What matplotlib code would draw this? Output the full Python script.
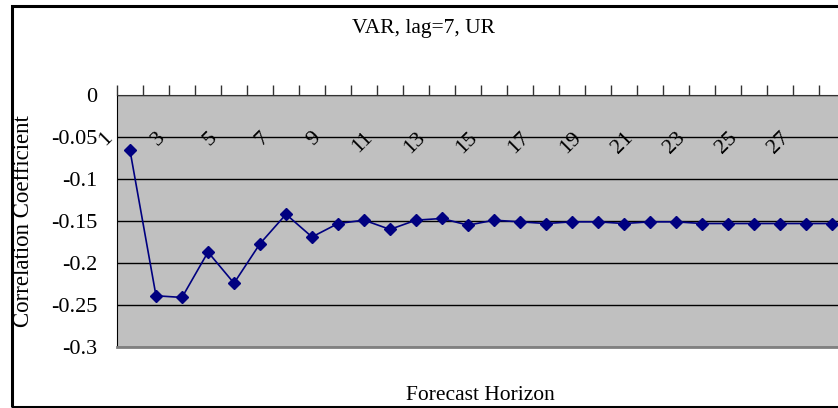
import matplotlib.pyplot as plt
from matplotlib.patches import Rectangle
from matplotlib.transforms import offset_copy

# forecast horizons and correlation values
horizon = list(range(1, 29))
corr = [-0.066, -0.239, -0.241, -0.187, -0.224, -0.177, -0.142, -0.169,
        -0.153, -0.149, -0.160, -0.149, -0.147, -0.155, -0.149, -0.151,
        -0.153, -0.151, -0.151, -0.153, -0.151, -0.151, -0.153, -0.153,
        -0.153, -0.153, -0.153, -0.153]
yticks = [0, -0.05, -0.1, -0.15, -0.2, -0.25, -0.3]
ylabels = ["0", "-0.05", "-0.1", "-0.15", "-0.2", "-0.25", "-0.3"]

plt.rcParams["font.family"] = ["Liberation Serif", "DejaVu Serif"]

fig = plt.figure(figsize=(8.38, 4.08), dpi=100)
W, H = 838, 408

# outer frame of the chart
fig.patches.append(Rectangle((12 / W, 1.5 / H), 1.2, (H - 7.5) / H,
                             transform=fig.transFigure, fill=False,
                             edgecolor="black", linewidth=2.2))

ax = fig.add_axes([117 / W, 61 / H, (W - 117) / W, 252 / H])
ax.set_facecolor("#c0c0c0")
ax.set_xlim(0.5, 28.23)
ax.set_ylim(-0.3, 0)

ax.plot(horizon, corr, color="#000080", linewidth=1.2, marker="D",
        markersize=6.5, zorder=3)

# gridlines
ax.set_yticks(yticks)
ax.set_yticklabels(ylabels, fontsize=16)
ax.tick_params(axis="y", length=0, pad=14)
ax.grid(axis="y", color="black", linewidth=1)

# category ticks on the top axis line
ax.set_xticks([h + 0.5 for h in range(0, 28)])
ax.set_xticklabels([])
ax.xaxis.set_ticks_position("top")
ax.tick_params(axis="x", direction="out", length=7, width=1, color="#333333")

ax.spines["right"].set_visible(False)
ax.spines["top"].set_color("#333333")
ax.spines["left"].set_color("black")
ax.spines["bottom"].set_color("#808080")
ax.spines["bottom"].set_linewidth(2)

# rotated category labels sitting below the zero line
trans = offset_copy(ax.transData, fig=fig, x=-13, y=-33, units="dots")
for h in horizon:
    if h % 2 == 1:
        ax.text(h, 0, str(h), transform=trans, rotation=45, ha="right",
                va="top", fontsize=16)

fig.text(423 / W, 1 - 28 / H, "VAR, lag=7, UR", ha="center", va="center",
         fontsize=15.5)
fig.text(24 / W, 1 - 221 / H, "Correlation Coefficient", rotation=90,
         ha="center", va="center", fontsize=16.5)
fig.text(480 / W, 1 - 395 / H, "Forecast Horizon", ha="center",
         va="center", fontsize=15.5)

fig.savefig("out.png", dpi=100)
